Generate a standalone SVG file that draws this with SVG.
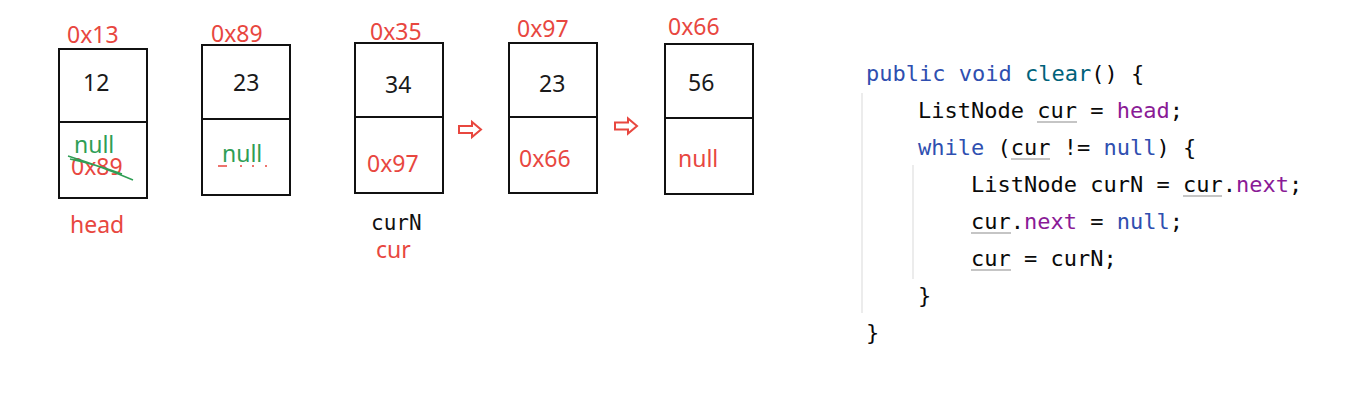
<svg xmlns="http://www.w3.org/2000/svg" width="1352" height="415" viewBox="0 0 1352 415">
<style>
.box{fill:none;stroke:#111;stroke-width:2}
.t{font-family:"Noto Sans","Open Sans",sans-serif;font-size:23px}
.r{fill:#e8473f}
.k{fill:#1a1a1a}
.g{fill:#2f9e55}
.code{font-family:"DejaVu Sans Mono","Liberation Mono",monospace;font-size:22px;fill:#0a0a0a}
.kw{fill:#2f4fb0}
.fn{fill:#00627a}
.pp{fill:#8a1a96}
.ul{stroke:#8c8c8c;stroke-width:1.2}
.guide{stroke:#e6e6e6;stroke-width:1.5}
.arr{fill:#fff;stroke:#e8473f;stroke-width:2;stroke-linejoin:miter}
</style>
<rect width="1352" height="415" fill="#fff"/>
<g id="node1">
<rect class="box" x="59" y="49" width="88" height="149"/>
<line class="box" x1="59" y1="122" x2="147" y2="122"/>
<text class="t r" x="67" y="43">0x13</text>
<text class="t k" x="83" y="91">12</text>
<text class="t g" x="74" y="153">null</text>
<text class="t r" x="71" y="175">0x89</text>
<path d="M68 156 Q100 166 133 180 M70 159 Q98 165 122 174" fill="none" stroke="#2f9e55" stroke-width="1.5"/>
<text class="t r" x="70" y="233">head</text>
</g>
<g id="node2">
<rect class="box" x="202" y="45" width="88" height="150"/>
<line class="box" x1="202" y1="119" x2="290" y2="119"/>
<text class="t r" x="211" y="42">0x89</text>
<text class="t k" x="233" y="91">23</text>
<text class="t g" x="222" y="162">null</text>
<path d="M218 166 H227 M240 166 H242 M252 166 H254 M265 166 H267" stroke="#e8473f" stroke-width="1.5"/>
</g>
<g id="node3">
<rect class="box" x="355" y="43" width="88" height="150"/>
<line class="box" x1="355" y1="117" x2="443" y2="117"/>
<text class="t r" x="370" y="40">0x35</text>
<text class="t k" x="385" y="93">34</text>
<text class="t r" x="367" y="172">0x97</text>
<text x="371" y="230" style="font-family:'DejaVu Sans Mono',monospace;font-size:21px;fill:#111">curN</text>
<text class="t r" x="376" y="258">cur</text>
</g>
<g id="node4">
<rect class="box" x="509" y="43" width="88" height="150"/>
<line class="box" x1="509" y1="117" x2="597" y2="117"/>
<text class="t r" x="517" y="37">0x97</text>
<text class="t k" x="539" y="92">23</text>
<text class="t r" x="519" y="167">0x66</text>
</g>
<g id="node5">
<rect class="box" x="665" y="44" width="88" height="150"/>
<line class="box" x1="665" y1="118" x2="753" y2="118"/>
<text class="t r" x="668" y="35">0x66</text>
<text class="t k" x="688" y="91">56</text>
<text class="t r" x="678" y="167">null</text>
</g>
<g id="connectors">
<path class="arr" d="M459 126 H472 V122 L481 129.5 L472 137 V133 H459 Z"/>
<path class="arr" d="M615 122.5 H628 V118.5 L637 126 L628 133.5 V129.5 H615 Z"/>
</g>
<g id="code">
<line class="guide" x1="862" y1="93" x2="862" y2="313"/>
<line class="guide" x1="913" y1="165" x2="913" y2="279"/>
<text class="code" x="866" y="81"><tspan class="kw">public void </tspan><tspan class="fn">clear</tspan>() {</text>
<text class="code" x="918" y="118">ListNode cur = <tspan class="pp">head</tspan>;</text>
<text class="code" x="918" y="155"><tspan class="kw">while</tspan> (cur != <tspan class="kw">null</tspan>) {</text>
<text class="code" x="971" y="192">ListNode curN = cur.<tspan class="pp">next</tspan>;</text>
<text class="code" x="971" y="229">cur.<tspan class="pp">next</tspan> = <tspan class="kw">null</tspan>;</text>
<text class="code" x="971" y="266">cur = curN;</text>
<text class="code" x="918" y="303">}</text>
<text class="code" x="866" y="340">}</text>
<line class="ul" x1="1037" y1="122" x2="1077" y2="122"/>
<line class="ul" x1="1011" y1="159" x2="1050" y2="159"/>
<line class="ul" x1="1183" y1="196" x2="1222" y2="196"/>
<line class="ul" x1="971" y1="233" x2="1011" y2="233"/>
<line class="ul" x1="971" y1="270" x2="1011" y2="270"/>
</g>
</svg>
